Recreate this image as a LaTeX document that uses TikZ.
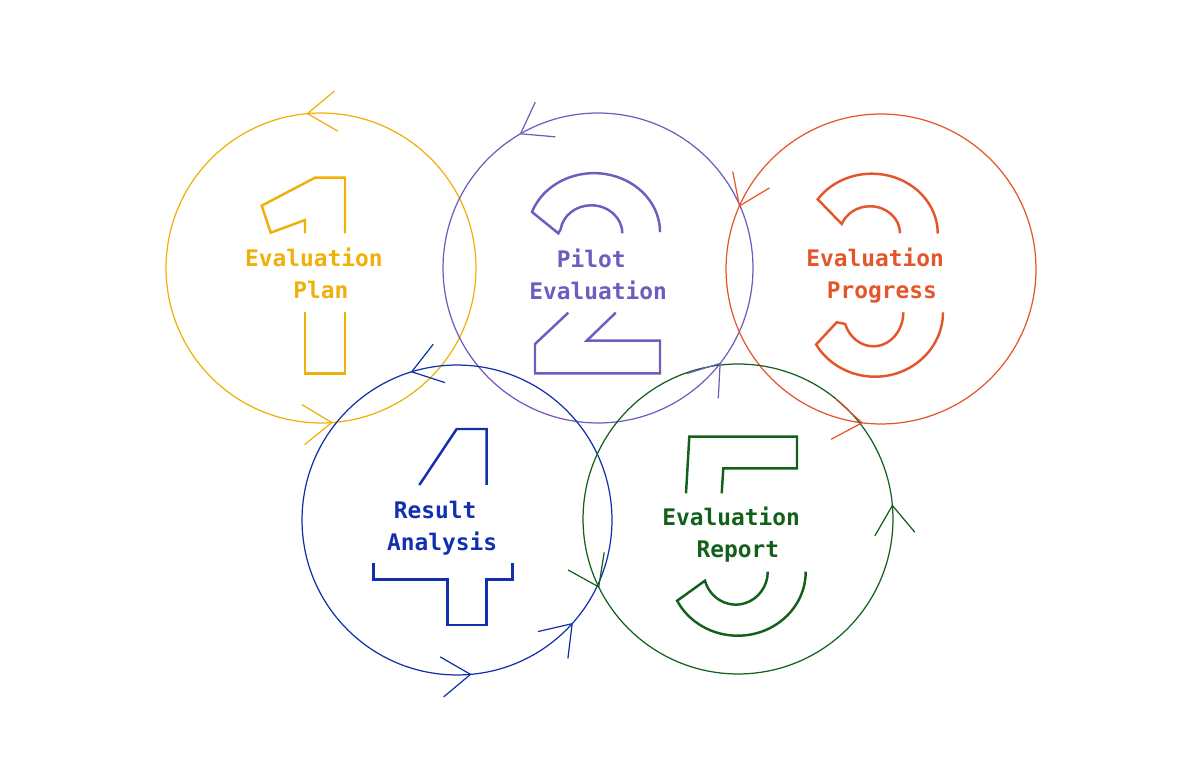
\documentclass[tikz,border=0pt]{standalone}
\usepackage{fontspec}
\setmonofont{DejaVu Sans Mono}
\usetikzlibrary{calc}
\definecolor{yel}{RGB}{240,176,10}
\definecolor{pur}{RGB}{110,92,190}
\definecolor{ora}{RGB}{228,86,42}
\definecolor{blu}{RGB}{18,48,172}
\definecolor{grn}{RGB}{18,96,28}
\tikzset{
  ring/.style={circle, draw, minimum size=6.2cm, inner sep=0pt, outer sep=0pt, line width=0.7pt},
  digit/.style={line width=1.4pt},
  tag/.style={font=\ttfamily\bfseries\fontsize{13}{18.2}\selectfont, align=center}
}
\begin{document}
\begin{tikzpicture}[x=0.02cm,y=0.02cm]
    \useasboundingbox (0,0) rectangle (1200,764);
    % Circles
    \node[ring, yel] (plan) at (321,496) {};
    \node[ring, pur] (pilot) at (598,496) {};
    \node[ring, ora] (progress) at (881,495) {};
    \node[ring, blu] (result) at (457,244) {};
    \node[ring, grn] (report) at (738,245) {};
    % Direction marks
    \foreach \n/\a/\col in {plan/95/yel, plan/274/yel, pilot/120/pur, pilot/322/pur,
        progress/156/ora, progress/263/ora, result/107/blu, result/275/blu,
        result/318/blu, report/206/grn, report/5/grn}
        \draw[\col, line width=0.7pt] ($(\n.\a)+(\a-55:35)$) -- (\n.\a) -- ($(\n.\a)+(\a-125:35)$);
    % Digit 1
    \draw[digit, yel] (305,530.7) -- (305,544) -- (270.7,531.3) -- (261.7,558.3) -- (315,586.3) -- (345,586.3) -- (345,530.7);
    \draw[digit, yel] (305,451.7) -- (305,390.7) -- (345,390.7) -- (345,451.7);
    % Digit 2
    \draw[digit, pur] (622.3,530.7) arc[start angle=0, end angle=172, x radius=31, y radius=28]
        -- (558.3,530.7) -- (532,552) arc[start angle=160, end angle=0, x radius=66, y radius=59];
    \draw[digit, pur] (568.3,451.3) -- (535,420) -- (535,390.7) -- (660,390.7) -- (660,423.3) -- (586.7,423.3) -- (615.7,451.3);
    % Digit 3
    \draw[digit, ora] (900,530.7) arc[start angle=0, end angle=160, x radius=30, y radius=27]
        -- (817.7,564.7) arc[start angle=145, end angle=0, x radius=66, y radius=60];
    \draw[digit, ora] (903.3,451.7) arc[start angle=0, end angle=-160, x radius=30, y radius=34]
        -- (836.7,441.7) -- (816.1,419.5) arc[start angle=210, end angle=360, x radius=68, y radius=64.4];
    % Digit 4
    \draw[digit, blu] (419.3,279) -- (456.7,335) -- (486.7,335) -- (486.7,279);
    \draw[digit, blu] (373.3,200.7) -- (373.3,184.7) -- (447.7,184.7) -- (447.7,139) -- (486.7,139) -- (486.7,184.7) -- (512.3,184.7) -- (512.3,200.7);
    % Digit 5
    \draw[digit, grn] (686,270.7) -- (689.3,327.3) -- (797,327.3) -- (797,295.7) -- (723.3,295.7) -- (721.7,270.7);
    \draw[digit, grn] (805.7,192.3) arc[start angle=0, end angle=-153, x radius=68, y radius=64]
        -- (705,183.3) arc[start angle=196, end angle=360, x radius=32, y radius=33];
    % Labels
    \node[tag, yel] (plan-txt) at (314,491) {Evaluation\\\hphantom{x}Plan};
    \node[tag, pur] (pilot-txt) at (598,490) {Pilot\hphantom{x}\\Evaluation};
    \node[tag, ora] (progress-txt) at (875,488) {Evaluation\\\hphantom{x}Progress};
    \node[tag, blu] (result-txt) at (442,236) {Result\hphantom{x}\\Analysis};
    \node[tag, grn] (report-txt) at (731,229.5) {Evaluation\\\hphantom{x}Report};
\end{tikzpicture}
\end{document}
